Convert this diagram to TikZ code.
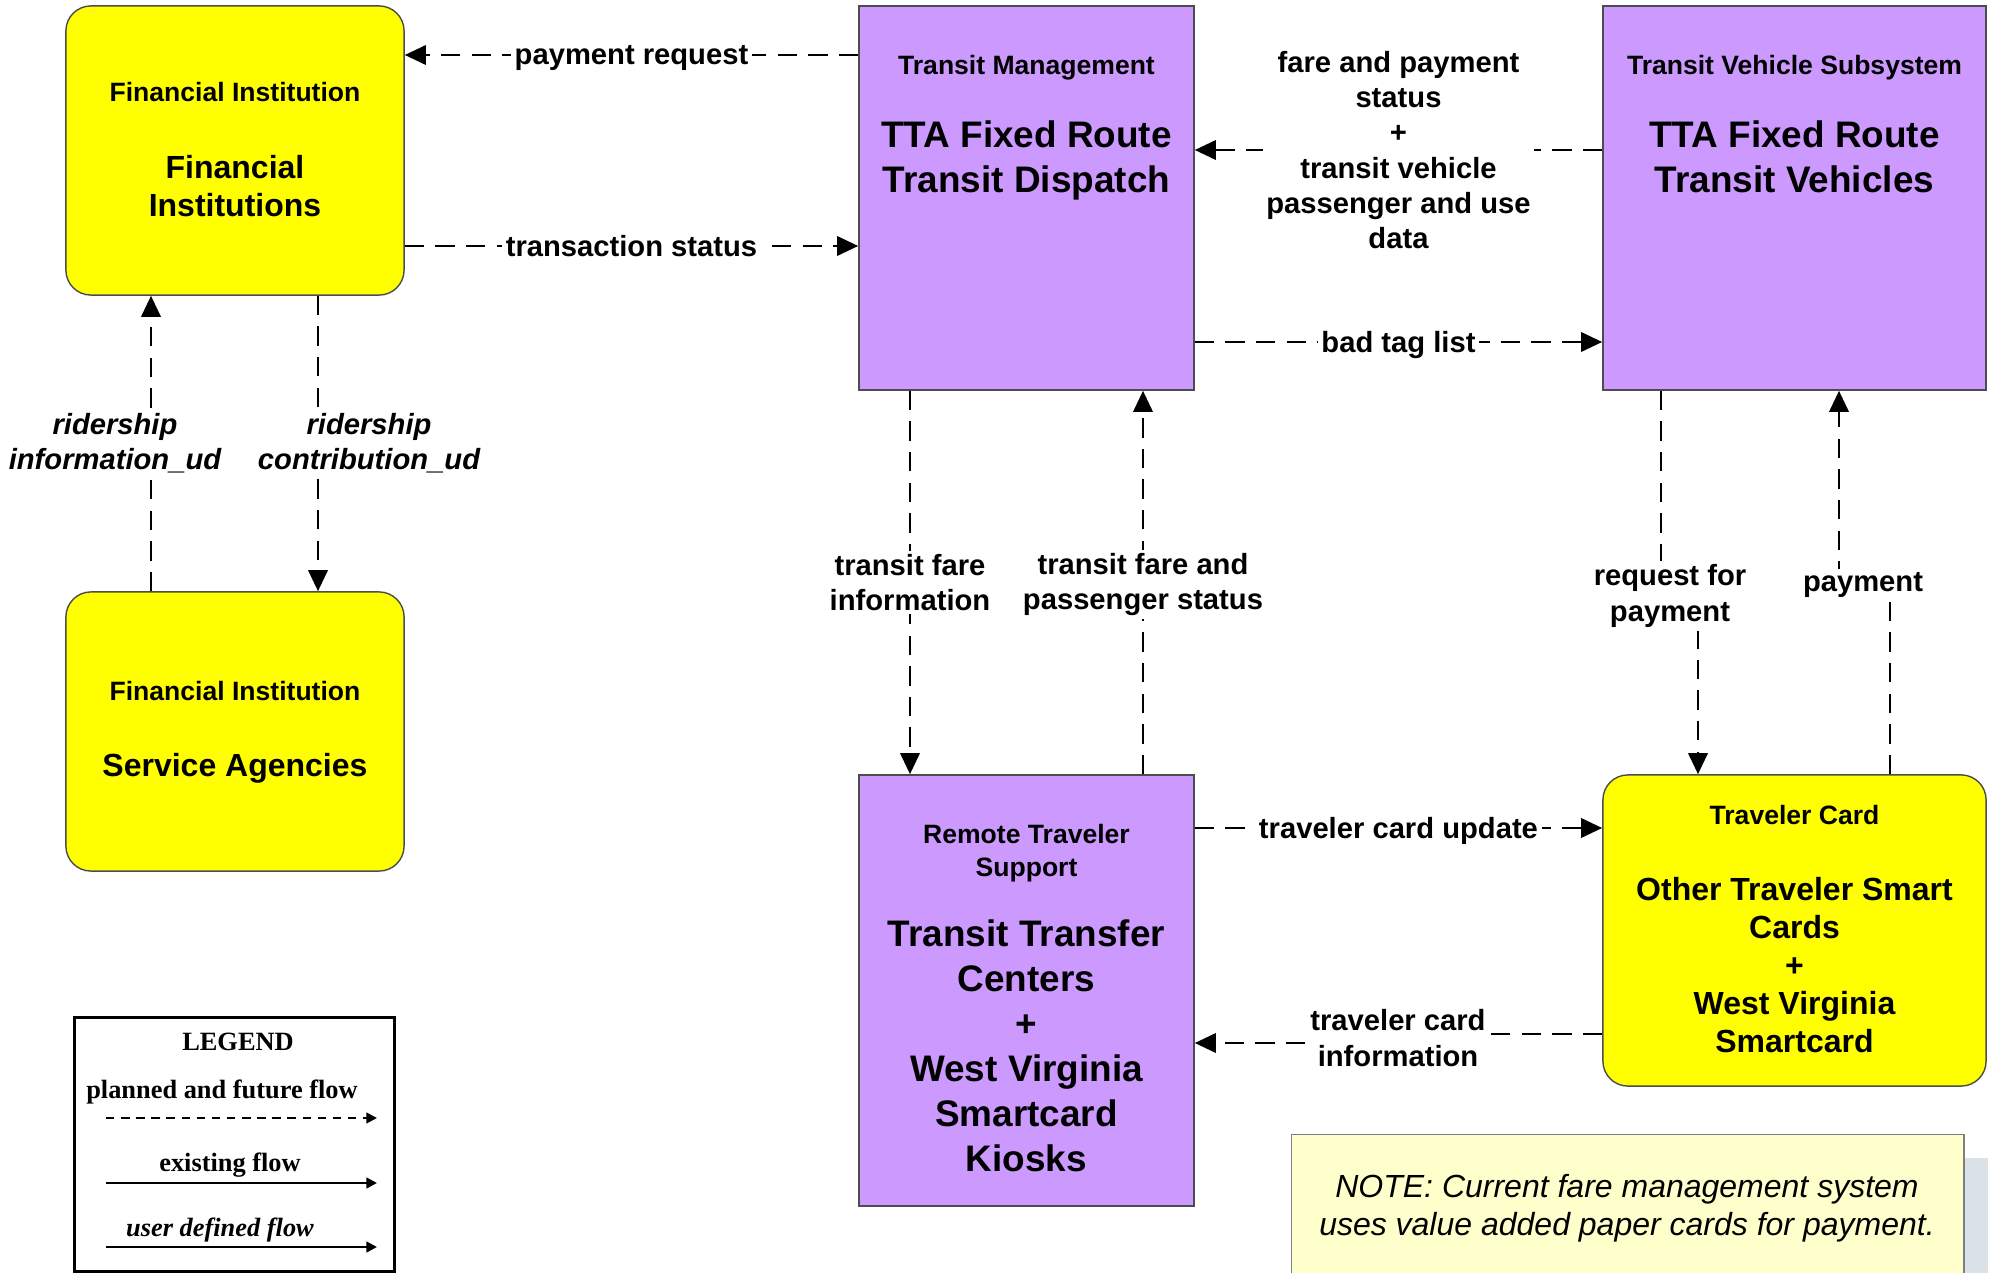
\documentclass[tikz,border=0pt]{standalone}
\usepackage{fontspec}
\setmainfont{Liberation Sans}
\newfontfamily\legendfont{Liberation Serif}
\usepackage{xcolor}
\usetikzlibrary{arrows.meta}

\definecolor{boxyellow}{HTML}{FFFF00}
\definecolor{boxpurple}{HTML}{CC99FF}
\definecolor{notefill}{HTML}{FFFFCC}
\definecolor{noteshadow}{HTML}{DCE3E8}

\begin{document}
\begin{tikzpicture}[x=0.01cm, y=-0.01cm,
    purplebox/.style={draw=black!70, line width=0.4pt, fill=boxpurple, inner sep=0pt},
    yellowbox/.style={draw=black!70, line width=0.4pt, fill=boxyellow, rounded corners=0.25cm, inner sep=0pt},
    boxtitle/.style={font=\bfseries\fontsize{7.55}{9.4}\selectfont, align=center, inner sep=0pt, text depth=0pt},
    bigname/.style={font=\bfseries\fontsize{10.5}{12.8}\selectfont, align=center, inner sep=0pt, text depth=0pt},
    cardname/.style={font=\bfseries\fontsize{9.1}{10.8}\selectfont, align=center, inner sep=0pt, text depth=0pt},
    flow/.style={line width=0.75pt, dash pattern=on 5.5pt off 3.2pt, -{Triangle[length=6pt, width=5.5pt]}},
    flowlabel/.style={fill=white, inner sep=1pt, align=center, font=\bfseries\fontsize{8.3}{10}\selectfont},
    hlabel/.style={flowlabel, text depth=0pt},
    udlabel/.style={flowlabel, font=\bfseries\itshape\fontsize{8.3}{10}\selectfont},
    legendtext/.style={inner sep=0pt, font=\legendfont\bfseries\fontsize{7.5}{9}\selectfont}
]
    \path[use as bounding box, fill=white] (0,0) rectangle (1996,1273);

    % Subsystem boxes
    \node[yellowbox, minimum width=3.38cm, minimum height=2.89cm] (fin) at (235,150.5) {};
    \node[yellowbox, minimum width=3.38cm, minimum height=2.79cm] (agency) at (235,731.5) {};
    \node[purplebox, minimum width=3.35cm, minimum height=3.84cm] (dispatch) at (1026.5,198) {};
    \node[purplebox, minimum width=3.83cm, minimum height=3.84cm] (vehicle) at (1794.5,198) {};
    \node[purplebox, minimum width=3.35cm, minimum height=4.31cm] (kiosk) at (1026.5,990.5) {};
    \node[yellowbox, minimum width=3.83cm, minimum height=3.11cm] (card) at (1794.5,930.5) {};

    % Box texts
    \node[boxtitle] (fin-title) at (235,92) {Financial Institution};
    \node[cardname] (fin-name) at (235,185.5) {Financial\\Institutions};
    \node[boxtitle] (agency-title) at (235,691) {Financial Institution};
    \node[cardname] (agency-name) at (235,765) {Service Agencies};
    \node[boxtitle] (dispatch-title) at (1026.5,65) {Transit Management};
    \node[bigname] (dispatch-name) at (1026.5,156.5) {TTA Fixed Route\\Transit Dispatch};
    \node[boxtitle] (vehicle-title) at (1794.5,65) {Transit Vehicle Subsystem};
    \node[bigname] (vehicle-name) at (1794.5,156.5) {TTA Fixed Route\\Transit Vehicles};
    \node[boxtitle] (kiosk-title) at (1026.5,850) {Remote Traveler\\Support};
    \node[bigname] (kiosk-name) at (1026.5,1046) {Transit Transfer\\Centers\\+\\West Virginia\\Smartcard\\Kiosks};
    \node[boxtitle] (card-title) at (1794.5,815) {Traveler Card};
    \node[cardname] (card-name) at (1794.5,965) {Other Traveler Smart\\Cards\\+\\West Virginia\\Smartcard};

    % Financial Institutions and Transit Dispatch
    \draw[flow] (dispatch.west |- 0,55) -- (fin.east |- 0,55) node[midway, hlabel] {payment request};
    \draw[flow] (fin.east |- 0,246) -- (dispatch.west |- 0,246) node[midway, hlabel] {transaction status};

    % Financial Institutions and Service Agencies
    \draw[flow] (agency.north -| 151,0) -- (fin.south -| 151,0) node[midway, udlabel, xshift=-0.36cm] {ridership\\information\_ud};
    \draw[flow] (fin.south -| 318,0) -- (agency.north -| 318,0) node[midway, udlabel, xshift=0.51cm] {ridership\\contribution\_ud};

    % Transit Dispatch and Transit Vehicles
    \draw[flow] (vehicle.west |- 0,150) -- (dispatch.east |- 0,150) node[midway, hlabel] {fare and payment\\status\\+\\transit vehicle\\passenger and use\\data};
    \draw[flow] (dispatch.east |- 0,342) -- (vehicle.west |- 0,342) node[midway, hlabel] {bad tag list};

    % Transit Dispatch and Kiosks
    \draw[flow] (dispatch.south -| 910,0) -- (kiosk.north -| 910,0) node[midway, flowlabel] {transit fare\\information};
    \draw[flow] (kiosk.north -| 1143,0) -- (dispatch.south -| 1143,0) node[midway, flowlabel, yshift=-0.02cm] {transit fare and\\passenger status};

    % Transit Vehicles and Traveler Card
    \draw[flow] (vehicle.south -| 1661,0) -- (1661,595) -- (1698,595) -- (card.north -| 1698,0);
    \node[flowlabel] (pay-request) at (1670,596) {request for\\payment};
    \draw[flow] (card.north -| 1890,0) -- (1890,585) -- (1839,585) -- (vehicle.south -| 1839,0);
    \node[flowlabel] (pay) at (1863,585) {payment};

    % Kiosks and Traveler Card
    \draw[flow] (kiosk.east |- 0,828) -- (card.west |- 0,828) node[midway, hlabel] {traveler card update};
    \draw[flow] (card.west |- 0,1034) -- (1398,1034) -- (1398,1043) -- (kiosk.east |- 0,1043);
    \node[flowlabel] (card-info) at (1398,1038) {traveler card\\information};

    % Note
    \fill[noteshadow] (1315,1158) rectangle (1988,1300);
    \node[draw=black!50, line width=0.4pt, fill=notefill, minimum width=6.72cm, minimum height=1.7cm, anchor=north west] (note) at (1291,1134) {};
    \node[font=\itshape\fontsize{9.1}{10.8}\selectfont, align=center, text depth=0pt] (note-text) at (1627,1205) {NOTE: Current fare management system\\uses value added paper cards for payment.};

    % Legend
    \node[draw, line width=0.85pt, minimum width=3.2cm, minimum height=2.54cm, anchor=north west, inner sep=0pt] (legend) at (73,1016) {};
    \node[legendtext] (legend-title) at (238,1042) {LEGEND};
    \node[legendtext] (legend-planned) at (222,1092) {planned and future flow};
    \draw[line width=0.6pt, dash pattern=on 2.4pt off 1.9pt, -{Triangle[length=3pt, width=3pt]}] (106,1118) -- (377,1118);
    \node[legendtext] (legend-existing) at (230,1165) {existing flow};
    \draw[line width=0.7pt, -{Triangle[length=3pt, width=3pt]}] (106,1183) -- (377,1183);
    \node[legendtext, font=\legendfont\bfseries\itshape\fontsize{7.5}{9}\selectfont] (legend-user) at (220,1230) {user defined flow};
    \draw[line width=0.7pt, -{Triangle[length=3pt, width=3pt]}] (106,1247) -- (377,1247);
\end{tikzpicture}
\end{document}
